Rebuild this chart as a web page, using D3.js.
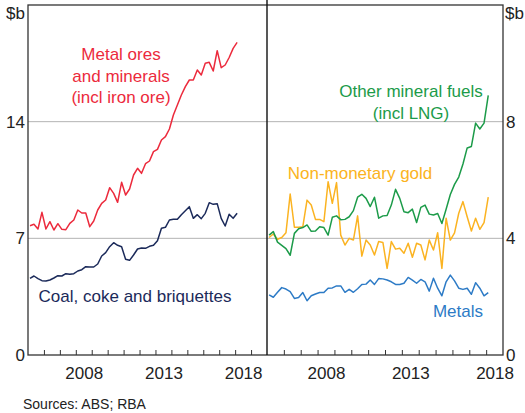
<!DOCTYPE html>
<html>
<head>
<meta charset="utf-8">
<script src="https://cdn.jsdelivr.net/npm/d3@7"></script>
<style>
  body { margin: 0; background: #fff; }
  svg text { font-family: Arial, 'Liberation Sans', sans-serif; }
</style>
</head>
<body>
<div id="chart"></div>
<script>
// quarterly observations, 2005 Q1 to 2018 Q1 (plotted mid-quarter)
const quarters = d3.range(53).map(i => 2005.125 + i * 0.25)

// left panel, $b
const metalOres = [7.76, 7.84, 7.56, 8.56, 7.56, 8.0, 7.5, 7.88, 7.54, 7.52, 7.9, 8.1, 8.7, 8.52, 8.52, 7.7, 8.04, 8.7, 9.1, 9.3, 10.04, 9.7, 9.16, 10.36, 9.6, 9.96, 10.8, 11.2, 10.9, 11.48, 11.64, 12.2, 12.34, 12.9, 13.1, 13.56, 14.4, 15.0, 15.6, 16.1, 16.5, 16.5, 17.1, 16.8, 17.5, 17.56, 17.04, 18.26, 17.24, 17.4, 17.85, 18.4, 18.76]
const coal = [4.6, 4.74, 4.58, 4.46, 4.44, 4.5, 4.62, 4.76, 4.74, 4.88, 4.84, 4.88, 5.04, 5.12, 5.3, 5.28, 5.28, 5.46, 5.94, 6.14, 6.5, 6.74, 6.58, 6.5, 5.74, 5.68, 6.0, 6.36, 6.42, 6.4, 6.52, 6.58, 6.86, 7.6, 7.66, 8.1, 8.14, 8.14, 8.42, 8.66, 8.9, 8.2, 8.42, 8.18, 8.5, 9.14, 9.04, 9.08, 8.2, 7.74, 8.44, 8.2, 8.5]

// right panel, $b
const otherFuels = [4.11, 4.23, 3.87, 3.76, 3.65, 3.42, 4.17, 4.33, 4.37, 4.46, 4.24, 4.25, 4.4, 4.37, 4.11, 4.72, 4.77, 4.64, 4.65, 4.74, 4.95, 5.41, 5.51, 5.37, 5.09, 5.41, 4.69, 4.77, 4.78, 5.14, 5.68, 5.37, 4.91, 4.88, 5.0, 4.54, 5.06, 5.14, 4.83, 4.8, 4.85, 4.51, 5.0, 5.5, 5.85, 6.1, 6.55, 7.1, 7.15, 7.95, 7.75, 7.95, 8.9]
const gold = [4.03, 4.15, 3.97, 4.03, 4.19, 5.52, 4.38, 4.38, 4.4, 5.31, 5.14, 4.65, 4.65, 4.57, 5.94, 5.2, 5.91, 4.11, 3.77, 4.0, 3.94, 4.77, 3.39, 3.94, 3.77, 3.43, 3.89, 3.86, 2.97, 3.89, 3.63, 3.66, 3.49, 3.83, 3.35, 3.83, 3.77, 3.26, 3.94, 3.6, 4.19, 2.97, 4.69, 3.94, 4.19, 4.86, 5.26, 4.74, 4.25, 4.69, 4.31, 4.54, 5.41]
const metals = [2.06, 1.98, 2.15, 2.31, 2.26, 2.17, 1.94, 1.97, 2.14, 1.86, 2.03, 2.09, 2.14, 2.14, 2.29, 2.3, 2.37, 2.37, 2.15, 2.25, 2.15, 2.27, 2.42, 2.43, 2.57, 2.42, 2.62, 2.61, 2.57, 2.51, 2.42, 2.42, 2.46, 2.66, 2.57, 2.46, 2.59, 2.51, 2.19, 2.63, 2.29, 2.03, 2.51, 2.74, 2.54, 2.29, 2.25, 2.29, 2.08, 2.48, 2.29, 2.03, 2.14]

const leftTicks = [0, 7, 14]
const rightTicks = [0, 4, 8]
const yearLabels = [2008, 2013, 2018]

const width = 525
const height = 413
const frame = { left: 28, top: 5, right: 503, bottom: 355, split: 267 }
const fontSize = 17

const svg = d3
  .select('#chart')
  .append('svg')
  .attr('width', width)
  .attr('height', height)

const xLeft = d3.scaleLinear().domain([2005, 2020]).range([frame.left, frame.split])
const xRight = d3.scaleLinear().domain([2005, 2019]).range([frame.split, frame.right])
const yLeft = d3.scaleLinear().domain([0, 21]).range([frame.bottom, frame.top])
const yRight = d3.scaleLinear().domain([0, 12]).range([frame.bottom, frame.top])

// gridlines
svg.append('g')
  .selectAll('line')
  .data(leftTicks.slice(1))
  .enter()
  .append('line')
  .attr('x1', frame.left)
  .attr('x2', frame.split)
  .attr('y1', d => yLeft(d))
  .attr('y2', d => yLeft(d))
  .attr('stroke', '#b4b4b4')
  .attr('stroke-width', 1)

svg.append('g')
  .selectAll('line')
  .data(rightTicks.slice(1))
  .enter()
  .append('line')
  .attr('x1', frame.split)
  .attr('x2', frame.right)
  .attr('y1', d => yRight(d))
  .attr('y2', d => yRight(d))
  .attr('stroke', '#b4b4b4')
  .attr('stroke-width', 1)

// series
const lineLeft = d3.line().x((d, i) => xLeft(quarters[i])).y(d => yLeft(d))
const lineRight = d3.line().x((d, i) => xRight(quarters[i])).y(d => yRight(d))

const series = [
  { values: metalOres, line: lineLeft, color: '#ec2a3c' },
  { values: coal, line: lineLeft, color: '#1b2a5a' },
  { values: metals, line: lineRight, color: '#2d7bc6' },
  { values: gold, line: lineRight, color: '#fbb321' },
  { values: otherFuels, line: lineRight, color: '#1c9b49' }
]

series.forEach(s => {
  svg.append('path')
    .datum(s.values)
    .attr('fill', 'none')
    .attr('stroke', s.color)
    .attr('stroke-width', 1.5)
    .attr('stroke-linejoin', 'round')
    .attr('d', s.line)
})

// frame and panel divider
svg.append('rect')
  .attr('x', frame.left)
  .attr('y', frame.top)
  .attr('width', frame.right - frame.left)
  .attr('height', frame.bottom - frame.top)
  .attr('fill', 'none')
  .attr('stroke', '#333')
  .attr('stroke-width', 1.3)

svg.append('line')
  .attr('x1', frame.split)
  .attr('x2', frame.split)
  .attr('y1', 0)
  .attr('y2', frame.bottom)
  .attr('stroke', '#111')
  .attr('stroke-width', 1.4)

// y axes
const yAxisLeft = d3.axisLeft(yLeft).tickValues(leftTicks).tickSize(0).tickPadding(3)
const yAxisRight = d3.axisRight(yRight).tickValues(rightTicks).tickSize(0).tickPadding(3)

svg.append('g')
  .attr('class', 'axis y-axis')
  .attr('transform', `translate(${frame.left},0)`)
  .call(yAxisLeft)
svg.append('g')
  .attr('class', 'axis y-axis')
  .attr('transform', `translate(${frame.right},0)`)
  .call(yAxisRight)

// x axes: year ticks point inward, labels sit mid-year
const xTicksLeft = d3.axisBottom(xLeft).tickValues(d3.range(2006, 2020)).tickSize(-5).tickFormat('')
const xTicksRight = d3.axisBottom(xRight).tickValues(d3.range(2006, 2019)).tickSize(-5).tickFormat('')
const xLabelsLeft = d3.axisBottom(xLeft).tickValues(yearLabels.map(d => d + 0.5)).tickSize(0).tickPadding(12).tickFormat(d => Math.floor(d))
const xLabelsRight = d3.axisBottom(xRight).tickValues(yearLabels.map(d => d + 0.5)).tickSize(0).tickPadding(12).tickFormat(d => Math.floor(d))

;[xTicksLeft, xTicksRight, xLabelsLeft, xLabelsRight].forEach(ax => {
  svg.append('g')
    .attr('class', 'axis x-axis')
    .attr('transform', `translate(0,${frame.bottom})`)
    .call(ax)
})

svg.selectAll('.axis .domain').remove()
svg.selectAll('.axis text')
  .attr('font-size', fontSize)
  .attr('fill', '#222')
svg.selectAll('.x-axis line').attr('stroke', '#333')

// units
svg.append('text')
  .attr('x', frame.left - 3)
  .attr('y', 13)
  .attr('dy', '0.35em')
  .attr('text-anchor', 'end')
  .attr('font-size', fontSize)
  .attr('fill', '#222')
  .text('$b')
svg.append('text')
  .attr('x', frame.right + 2)
  .attr('y', 13)
  .attr('dy', '0.35em')
  .attr('font-size', fontSize)
  .attr('fill', '#222')
  .text('$b')

// series labels
const labels = [
  { lines: ['Metal ores', 'and minerals', '(incl iron ore)'], x: 121, y: 60, color: '#ec2a3c' },
  { lines: ['Coal, coke and briquettes'], x: 135, y: 302, color: '#1b2a5a' },
  { lines: ['Other mineral fuels', '(incl LNG)'], x: 411, y: 97, color: '#1c9b49' },
  { lines: ['Non-monetary gold'], x: 360, y: 179, color: '#fbb321' },
  { lines: ['Metals'], x: 458, y: 317, color: '#2d7bc6' }
]

labels.forEach(l => {
  const t = svg.append('text')
    .attr('text-anchor', 'middle')
    .attr('font-size', fontSize)
    .attr('fill', l.color)
  l.lines.forEach((line, i) => {
    t.append('tspan')
      .attr('x', l.x)
      .attr('y', l.y + i * 21.5)
      .text(line)
  })
})

svg.append('text')
  .attr('x', 23)
  .attr('y', 409)
  .attr('font-size', 14)
  .attr('fill', '#222')
  .text('Sources: ABS; RBA')
</script>
</body>
</html>
